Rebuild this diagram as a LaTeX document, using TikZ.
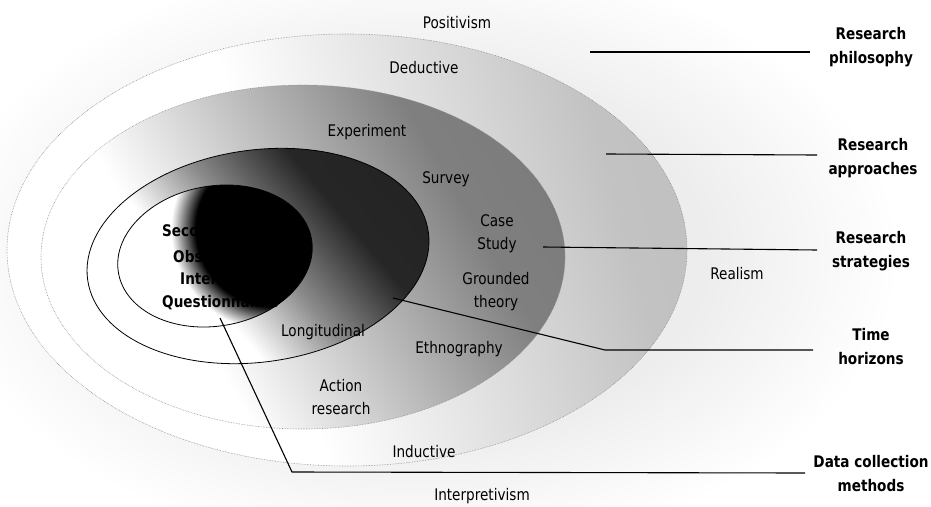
\documentclass[tikz,border=0pt]{standalone}
\usepackage{fontspec}
\setmainfont{DejaVu Sans}[FakeStretch=0.85]
\pgfdeclareradialshading{shBlob}{\pgfpoint{0bp}{0bp}}{color(0bp)=(black); color(19bp)=(black); color(25bp)=(white); color(50bp)=(white)}
\pgfdeclareradialshading{shHaze}{\pgfpoint{0bp}{0bp}}{color(0bp)=(black!9); color(15bp)=(black!7); color(25bp)=(white); color(50bp)=(white)}
\pgfdeclarehorizontalshading{shTime}{100bp}{color(0bp)=(white); color(40bp)=(white); color(52bp)=(black!45); color(66bp)=(black!85); color(100bp)=(black!88)}
\pgfdeclarehorizontalshading{shStrat}{100bp}{color(0bp)=(white); color(36bp)=(white); color(68bp)=(black!50); color(100bp)=(black!55)}
\pgfdeclarehorizontalshading{shAppr}{100bp}{color(0bp)=(white); color(44bp)=(white); color(72bp)=(black!24); color(100bp)=(black!26)}
\begin{document}
\begin{tikzpicture}[x=1pt,y=-1pt,
  lbl/.style={font=\fontsize{16}{23}\selectfont, align=center, inner sep=0pt},
  inb/.style={font=\fontsize{16}{23}\selectfont\bfseries, anchor=west, inner sep=0pt},
  side/.style={font=\fontsize{16}{24}\selectfont\bfseries, align=center, inner sep=0pt},
  ring/.style={densely dotted, black!45, line width=0.6pt},
  rim/.style={black, line width=0.8pt},
  conn/.style={black, line width=1.1pt}]
\useasboundingbox (0,0) rectangle (931,506);
% philosophy haze
\shade[shading=shHaze] (420,255) ellipse (480 and 300);
% research approaches
\shade[shading=shAppr, shading angle=15] (347,250) ellipse (340 and 216);
\draw[ring] (347,250) ellipse (340 and 216);
% research strategies
\shade[shading=shStrat, shading angle=30] (303,257) ellipse (262 and 172);
\draw[ring] (303,257) ellipse (262 and 172);
% time horizons
\shade[shading=shTime, shading angle=40, rotate around={8:(258,256)}] (258,256) ellipse (172 and 106);
\draw[rim, rotate around={8:(258,256)}] (258,256) ellipse (172 and 106);
% data collection methods
\fill[white, rotate around={10:(215,256)}] (215,256) ellipse (98 and 70);
\begin{scope}
  \clip[rotate around={10:(215,256)}] (215,256) ellipse (98 and 70);
  \shade[shading=shBlob] (273,229) circle (102);
\end{scope}
\draw[rim, rotate around={10:(215,256)}] (215,256) ellipse (98 and 70);

% ring labels
\node[lbl] (pos) at (457,23) {Positivism};
\node[lbl] (ded) at (424,68) {Deductive};
\node[lbl] (exp) at (367,132) {Experiment};
\node[lbl] (sur) at (446,179) {Survey};
\node[lbl] (cas) at (497,234) {Case\\Study};
\node[lbl] (gro) at (496,292) {Grounded\\theory};
\node[lbl] (rea) at (737,274) {Realism};
\node[lbl] (lon) at (323,332) {Longitudinal};
\node[lbl] (eth) at (459,349) {Ethnography};
\node[lbl] (act) at (341,397) {Action\\research};
\node[lbl] (ind) at (424,452) {Inductive};
\node[lbl] (int) at (482,496) {Interpretivism};
\node[inb] (sec) at (162,232) {Secondary data};
\node[inb] (obs) at (173,257) {Observation};
\node[inb] (itv) at (180,279) {Interviews};
\node[inb] (que) at (162,303) {Questionnaires};

% side labels
\node[side] (lphil) at (871,47) {Research\\philosophy};
\node[side] (lappr) at (873,158) {Research\\approaches};
\node[side] (lstra) at (871,251) {Research\\strategies};
\node[side] (ltime) at (871,347) {Time\\horizons};
\node[side] (ldata) at (871,474) {Data collection\\methods};

% connector points
\coordinate (p1) at (590,52);   \coordinate (q1) at (810,52);
\coordinate (p2) at (606,154);  \coordinate (q2) at (817,155);
\coordinate (p3) at (543,247);  \coordinate (q3) at (817,250);
\coordinate (p4) at (393,298);  \coordinate (k4) at (605,350); \coordinate (q4) at (813,350);
\coordinate (p5) at (220,318);  \coordinate (k5) at (292,472); \coordinate (q5) at (805,473);

\draw[conn] (p1) -- (q1);
\draw[conn] (p2) -- (q2);
\draw[conn] (p3) -- (q3);
\draw[conn] (p4) -- (k4) -- (q4);
\draw[conn] (p5) -- (k5) -- (q5);
\end{tikzpicture}
\end{document}
